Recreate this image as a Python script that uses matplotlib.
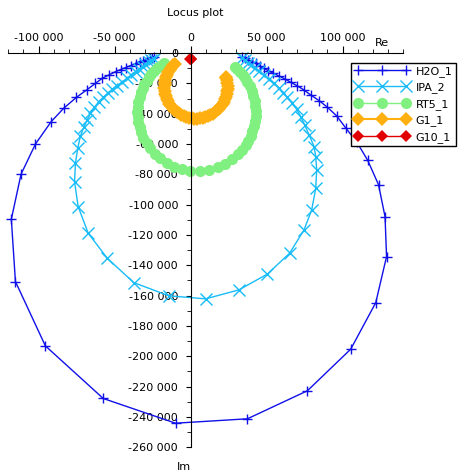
import matplotlib
matplotlib.use("Agg")
import matplotlib.pyplot as plt
from matplotlib.ticker import MultipleLocator, FuncFormatter

# impedance locus data (Re, Im)
h2o_re = [-24200, -25700, -27000, -29000, -31000, -33600, -36200, -39500, -42800, -46100,
          -49400, -53800, -58200, -62600, -68500, -75100, -83500, -91800, -102100, -111600,
          -118000, -115300, -95600, -57500, -9900, 37400, 76900, 105400, 121900, 129000,
          128000, 123700, 116600, 109400, 102100, 96200, 90100, 84600, 79100, 74700,
          70300, 65900, 62100, 58200, 54500, 51200, 48300, 45500, 42800, 40200,
          38000, 35800, 34100]
h2o_im = [-2400, -3000, -3500, -4300, -5000, -6100, -7100, -8300, -9600, -10900,
          -12300, -14500, -16700, -20000, -24400, -29200, -36400, -45300, -60000, -79900,
          -109600, -150700, -193100, -227800, -244100, -241200, -222700, -195300, -164600, -134200,
          -107900, -86800, -70800, -58700, -49400, -41500, -35800, -31400, -27700, -24400,
          -21700, -19300, -17100, -15200, -13400, -11700, -10100, -8600, -6800, -5700,
          -4600, -3500, -2400]

ipa_re = [-24400, -26000, -27700, -29700, -31600, -33900, -36200, -38900, -41800, -45100,
          -48300, -51600, -54500, -57500, -60400, -63300, -65900, -68100, -70300, -72500,
          -74300, -75800, -76400, -74000, -67400, -54900, -37400, -14300, 9900, 31800,
          50500, 65200, 74700, 79700, 82400, 83000, 82400, 81300, 78000, 75100,
          72500, 69900, 67000, 63700, 61100, 58000, 54700, 51400, 48100, 44800,
          42200, 39500, 37600, 35600, 33600]
ipa_im = [-4000, -4900, -5900, -7200, -8900, -10500, -12500, -14500, -16800, -19100,
          -21700, -23900, -26600, -29200, -32100, -35800, -39700, -44200, -49000, -54700,
          -62800, -72700, -84800, -101300, -118800, -135300, -151400, -160100, -162100, -156200,
          -145800, -132000, -116600, -103500, -89200, -77100, -68300, -61700, -54000, -47400,
          -42000, -37100, -33100, -29200, -26200, -23100, -20100, -17100, -14500, -11900,
          -9900, -7900, -6300, -4600, -3300]

rt5_re = [-17800, -20000, -22100, -24050, -25850, -27500, -29000, -30400, -31600, -32600,
          -33600, -34350, -34800, -34950, -34800, -34350, -33600, -32600, -31000, -29000,
          -26700, -23550, -20000, -15500, -10600, -5450, -100, 5950, 12050, 17900,
          22800, 27350, 31000, 33750, 36200, 38000, 39500, 40750, 41700, 42400,
          42750, 42850, 42650, 42150, 41350, 40250, 38900, 37300, 35800, 34200,
          32400, 30450, 28950]
rt5_im = [-6650, -8250, -10000, -11850, -13900, -16050, -18300, -20650, -23050, -25600,
          -28850, -32150, -35500, -38900, -42300, -45650, -48950, -52200, -55950, -59500,
          -62900, -66400, -69550, -72600, -74950, -76650, -77600, -77750, -76950, -75250,
          -72900, -70000, -66900, -63900, -60650, -57750, -54750, -51550, -48300, -44950,
          -41600, -38250, -34850, -31500, -28150, -24950, -21850, -18850, -16600, -14450,
          -12350, -10450, -9100]

g1_re = [-10300, -11600, -12800, -13850, -14750, -15550, -16200, -16650, -17000, -17150,
         -17200, -17050, -16750, -16300, -15700, -14950, -14050, -13000, -11850, -10600,
         -9200, -7750, -6150, -4550, -2850, -1100, 700, 2500, 4350, 6150,
         7950, 9700, 11400, 13050, 14650, 16100, 17500, 18800, 20000, 21050,
         21950, 22750, 23400, 23850, 24200, 24400, 24400, 24250, 23950, 23500, 23250]
g1_im = [-6950, -8200, -9600, -11050, -12650, -14250, -15950, -17700, -19500, -21300,
         -23150, -24950, -26700, -28500, -30200, -31850, -33400, -34900, -36300, -37600,
         -38800, -39850, -40750, -41550, -42200, -42650, -43000, -43200, -43200, -43050,
         -42750, -42300, -41700, -40950, -40050, -39000, -37850, -36600, -35200, -33750,
         -32150, -30550, -28800, -27100, -25300, -23500, -21650, -19850, -18100, -16300, -15600]

g10_re = [-600, 0, 600]
g10_im = [-4000, -4000, -4000]


def fmt(v, pos):
    v = int(round(v))
    s = "{:,}".format(abs(v)).replace(",", " ")
    return ("-" + s) if v < 0 else s


plt.rcParams['font.family'] = ['DejaVu Sans']
plt.rcParams['font.size'] = 8

fig = plt.figure(figsize=(4.58, 4.75), dpi=100)
ax = fig.add_axes([0.0181, 0.0583, 0.8624, 0.8301])

ax.plot(h2o_re, h2o_im, color='#1010e8', lw=1, marker='+', ms=6.5, mew=1, label='H2O_1', clip_on=False)
ax.plot(ipa_re, ipa_im, color='#18bcf8', lw=1, marker='x', ms=9, mew=1, label='IPA_2', clip_on=False)
ax.plot(rt5_re, rt5_im, color='#80f080', lw=1, marker='o', ms=8, mew=0, label='RT5_1', clip_on=False)
ax.plot(g1_re, g1_im, color='#ffb010', lw=1.5, marker='D', ms=7, mew=0, label='G1_1', clip_on=False)
ax.plot(g10_re, g10_im, color='#e00000', lw=1, marker='D', ms=6.5, mew=0, label='G10_1', clip_on=False)

ax.set_xlim(-120000, 140000)
ax.set_ylim(-260000, 0)

ax.spines['left'].set_position(('data', 0))
ax.spines['top'].set_position(('data', 0))
ax.spines['right'].set_visible(False)
ax.spines['bottom'].set_visible(False)
ax.xaxis.tick_top()
ax.yaxis.tick_left()

ax.xaxis.set_major_locator(MultipleLocator(50000))
ax.xaxis.set_minor_locator(MultipleLocator(10000))
ax.yaxis.set_major_locator(MultipleLocator(20000))
ax.yaxis.set_minor_locator(MultipleLocator(10000))
ax.xaxis.set_major_formatter(FuncFormatter(fmt))
ax.yaxis.set_major_formatter(FuncFormatter(fmt))
ax.tick_params(axis='x', which='major', length=5, pad=2.5, labelsize=8)
ax.tick_params(axis='x', which='minor', length=3)
ax.tick_params(axis='y', which='major', length=3.5, pad=5.5, labelsize=8)
ax.tick_params(axis='y', which='minor', length=3)

fig.text(195 / 458, 1 - 13 / 475, 'Locus plot', ha='center', va='center', fontsize=8)
fig.text(382 / 458, 1 - 43 / 475, 'Re', ha='center', va='center', fontsize=8)
fig.text(184 / 458, 1 - 467 / 475, 'Im', ha='center', va='center', fontsize=8)

leg = ax.legend(loc='upper left', bbox_to_anchor=(345.7 / 458, 1 - 57 / 475),
                bbox_transform=fig.transFigure, numpoints=3, handlelength=4.9,
                handletextpad=0.6, borderpad=0.3, labelspacing=0.5,
                fancybox=False, framealpha=1, edgecolor='black', fontsize=8)
leg.get_frame().set_linewidth(1)

fig.savefig('out.png', dpi=100)
